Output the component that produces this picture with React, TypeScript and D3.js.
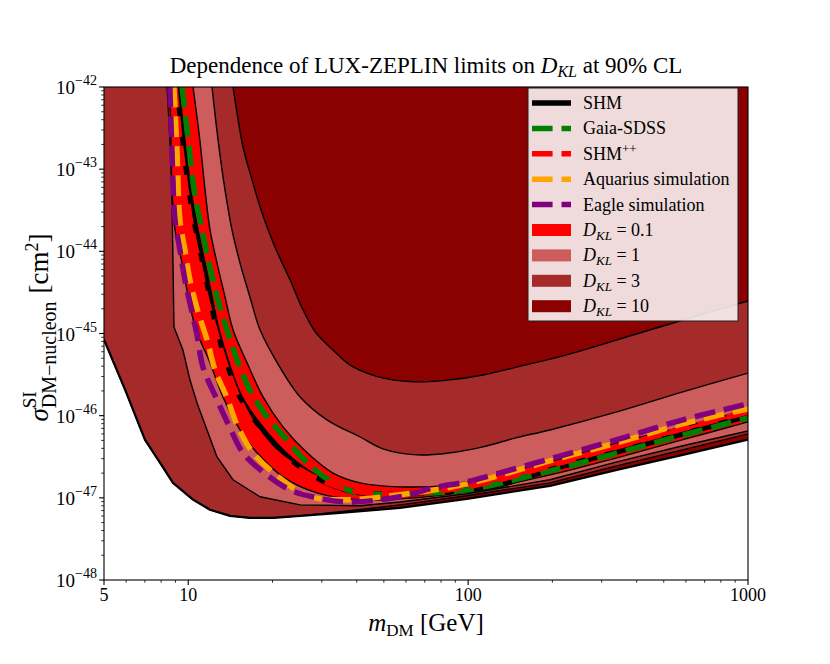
import { useRef, useEffect } from "react";
import * as d3 from "d3";

type Pt = [number, number];

// axis ranges
const massDomain: [number, number] = [5, 1000];
const sigmaDomain: [number, number] = [1e-48, 1e-42];
const xTickVals = [5, 10, 100, 1000];
const yTickExps = [-48, -47, -46, -45, -44, -43, -42];

// band edges, [m_DM (GeV), sigma (cm^2)]
const lowerD10: Pt[] = [
  [5, 8.4e-46], [5.95, 2.06e-46], [7.0, 5.1e-47], [7.93, 2.67e-47], [8.82, 1.52e-47],
  [10.4, 9.5e-48], [11.96, 7.15e-48], [14.1, 6.04e-48], [16.6, 5.7e-48], [20.1, 5.7e-48],
  [25.1, 6.04e-48], [34.9, 6.57e-48], [57.1, 7.56e-48], [99, 9.7e-48], [196, 1.4e-47],
  [340, 2.19e-47], [585, 3.33e-47], [1000, 5.1e-47],
];
const lowerD3: Pt[] = [
  [5, 8.4e-46], [5.95, 2.06e-46], [7.0, 5.1e-47], [7.93, 2.67e-47], [8.82, 1.52e-47],
  [10.4, 9.5e-48], [11.96, 7.15e-48], [14.1, 6.04e-48], [16.6, 5.7e-48], [20.1, 5.7e-48],
  [25.1, 6.04e-48], [34.9, 6.76e-48], [57.1, 8.2e-48], [99, 1.06e-47], [196, 1.52e-47],
  [340, 2.45e-47], [585, 3.84e-47], [1000, 6.0e-47],
];
const lowerD1: Pt[] = [
  [8.6, 1e-42], [8.75, 4.22e-44], [8.89, 1.2e-45], [9.57, 6.3e-46], [10.14, 2.73e-46],
  [10.75, 1.43e-46], [11.67, 6.7e-47], [12.67, 3.15e-47], [14.45, 1.66e-47], [18.05, 1.03e-47],
  [25.1, 8.2e-48], [41.1, 8.0e-48], [57.1, 8.9e-48], [99, 1.12e-47], [196, 1.66e-47],
  [340, 2.74e-47], [585, 4.3e-47], [1000, 6.5e-47],
];
const lowerD01: Pt[] = [
  [8.4, 1e-42], [8.6, 2.26e-43], [8.75, 5.6e-44], [8.97, 1.82e-44], [9.5, 7.2e-45],
  [10.0, 2.8e-45], [10.66, 1.11e-45], [11.96, 4.4e-46], [13.31, 1.69e-46], [15.31, 6.7e-47],
  [17.61, 3.53e-47], [21.8, 1.8e-47], [28.8, 1.15e-47], [41.1, 9.46e-48], [57.1, 9.7e-48],
  [99, 1.18e-47], [196, 1.9e-47], [340, 3.07e-47], [585, 5.1e-47], [1000, 8.4e-47],
];
const upperD01: Pt[] = [
  [10.4, 1e-42], [11.0, 2.26e-43], [11.48, 5.6e-44], [11.96, 1.82e-44], [12.67, 7.2e-45],
  [13.53, 2.8e-45], [14.45, 1.11e-45], [16.22, 4.4e-46], [18.5, 1.69e-46], [21.8, 7.3e-47],
  [26.6, 3.53e-47], [32.9, 2.0e-47], [41.1, 1.52e-47], [57.1, 1.36e-47], [86.1, 1.44e-47],
  [113, 1.75e-47], [149, 2.19e-47], [196, 2.74e-47], [340, 4.67e-47], [585, 7.3e-47],
  [1000, 1.18e-46],
];
const upperD1: Pt[] = [
  [12.16, 1e-42], [12.78, 2.26e-43], [13.53, 5.6e-44], [14.33, 1.82e-44], [15.31, 7.2e-45],
  [16.6, 2.8e-45], [18.05, 1.11e-45], [20.8, 4.4e-46], [25.1, 1.69e-46], [31.3, 8.9e-47],
  [41.1, 5.5e-47], [49.6, 3.95e-47], [65.7, 3.33e-47], [86.1, 3.53e-47], [113, 4.17e-47],
  [149, 5.4e-47], [196, 6.7e-47], [340, 1.11e-46], [585, 1.95e-46], [1000, 3.3e-46],
];
const upperD3: Pt[] = [
  [14.45, 1e-42], [14.94, 4.8e-43], [15.69, 1.86e-43], [16.9, 7.4e-44], [18.35, 2.93e-44],
  [20.4, 1.13e-44], [23.1, 4.5e-45], [25.7, 1.94e-45], [28.6, 1.02e-45], [32.9, 6.3e-46],
  [37.8, 4.15e-46], [43.5, 3.3e-46], [51.3, 2.8e-46], [65.7, 2.58e-46], [86.1, 2.73e-46],
  [113, 3.13e-46], [149, 3.9e-46], [225, 5.5e-46], [388, 9.6e-46], [673, 1.68e-45],
  [1000, 2.49e-45],
];

// limit curves for the halo models
const shm: Pt[] = [
  [9.12, 1e-42], [9.57, 2.26e-43], [10.06, 5.6e-44], [10.66, 1.82e-44], [11.29, 7.2e-45],
  [11.96, 2.8e-45], [12.67, 1.11e-45], [13.75, 4.4e-46], [15.31, 1.69e-46], [17.61, 8.2e-47],
  [20.8, 4.2e-47], [25.1, 2.38e-47], [31.3, 1.52e-47], [41.1, 1.15e-47], [57.1, 1.12e-47],
  [74.9, 1.15e-47], [99, 1.25e-47], [130, 1.44e-47], [196, 2.19e-47], [340, 3.63e-47],
  [585, 6.0e-47], [1000, 9.95e-47],
];
const gaiaSdss: Pt[] = [
  [9.5, 1e-42], [10.0, 2.26e-43], [10.49, 5.6e-44], [11.2, 1.82e-44], [11.86, 7.2e-45],
  [12.67, 2.8e-45], [13.75, 1.11e-45], [14.94, 4.77e-46], [16.6, 2.06e-46], [19.1, 9.7e-47],
  [22.5, 5.1e-47], [26.6, 2.67e-47], [32.9, 1.52e-47], [40.1, 1.15e-47], [57.1, 1.12e-47],
  [99, 1.25e-47], [196, 2.13e-47], [340, 3.5e-47], [585, 5.8e-47], [1000, 9.4e-47],
];
const shmPlusPlus: Pt[] = [
  [8.97, 1e-42], [9.34, 2.26e-43], [9.82, 5.6e-44], [10.31, 1.82e-44], [10.93, 7.2e-45],
  [11.57, 2.8e-45], [12.46, 1.11e-45], [13.53, 4.4e-46], [15.06, 1.69e-46], [17.32, 7.1e-47],
  [20.4, 3.63e-47], [25.1, 2.19e-47], [32.1, 1.48e-47], [41.1, 1.18e-47], [57.1, 1.12e-47],
  [99, 1.36e-47], [196, 2.45e-47], [340, 4.17e-47], [585, 6.9e-47], [1000, 1.11e-46],
];
const aquarius: Pt[] = [
  [8.89, 1e-42], [9.12, 1.57e-43], [9.34, 2.41e-44], [9.73, 1.04e-44], [10.14, 4.5e-45],
  [10.84, 1.83e-45], [11.67, 8.4e-46], [12.46, 3.6e-46], [13.75, 1.65e-46], [15.06, 7.3e-47],
  [17.04, 3.53e-47], [20.8, 1.85e-47], [26.6, 1.06e-47], [34.9, 9.46e-48], [57.1, 1.09e-47],
  [99, 1.48e-47], [196, 2.82e-47], [340, 4.67e-47], [585, 7.94e-47], [1000, 1.21e-46],
];
const eagle: Pt[] = [
  [8.6, 1e-42], [8.75, 1.57e-43], [8.97, 2.41e-44], [9.34, 1.04e-44], [9.73, 4.5e-45],
  [10.31, 1.83e-45], [10.75, 9.6e-46], [11.29, 3.9e-46], [12.67, 1.56e-46], [14.1, 7.1e-47],
  [15.69, 3.53e-47], [18.5, 2.07e-47], [23.1, 1.25e-47], [28.8, 1.0e-47], [36.9, 8.9e-48],
  [57.1, 1.03e-47], [74.9, 1.32e-47], [99, 1.57e-47], [130, 2.01e-47], [196, 2.98e-47],
  [340, 5.1e-47], [585, 8.9e-47], [1000, 1.39e-46],
];

const curveNames = ["SHM", "Gaia-SDSS", "SHM++", "Aquarius simulation", "Eagle simulation"];
const curveColors = ["black", "green", "red", "orange", "purple"];
const dklValues = ["0.1", "1", "3", "10"];
const dklColors = ["#ff0000", "#cd5c5c", "#a52a2a", "#8b0000"];

const W = 830,
  H = 664;
const M = { left: 104, right: 748, top: 87, bottom: 580 };
const FONT = "'Liberation Serif', 'DejaVu Serif', serif";

export default function App() {
  const ref = useRef<SVGSVGElement>(null);

  useEffect(() => {
    if (!ref.current) return;
    const svg = d3.select(ref.current);
    svg.selectAll("*").remove();

    const x = d3.scaleLog().domain(massDomain).range([M.left, M.right]);
    const y = d3.scaleLog().domain(sigmaDomain).range([M.bottom, M.top]);
    const P = (d: Pt): [number, number] => [x(d[0]), y(d[1])];
    const lin = d3.line().curve(d3.curveLinear);
    const smooth = d3.line().curve(d3.curveCatmullRom.alpha(0.5));
    const yTop = y(1e-42);

    const band = (lo: Pt[], loGen: any, up: Pt[], upGen: any) => {
      const a = loGen(lo.map(P)).replace(/^M/, "L");
      const b = upGen([...up].reverse().map(P)).replace(/^M/, "L");
      return `M${x(lo[0][0])},${yTop}${a}${b}L${x(up[0][0])},${yTop}Z`;
    };

    svg
      .append("defs")
      .append("clipPath")
      .attr("id", "plotclip")
      .append("rect")
      .attr("x", M.left)
      .attr("y", M.top)
      .attr("width", M.right - M.left)
      .attr("height", M.bottom - M.top);

    const g = svg.append("g").attr("clip-path", "url(#plotclip)");

    // bands, widest first
    g.append("path")
      .attr("d", `M${x(5)},${yTop}${lin(lowerD10.map(P)).replace(/^M/, "L")}L${x(1000)},${yTop}Z`)
      .attr("fill", dklColors[3]);
    g.append("path").attr("d", band(lowerD3, lin, upperD3, smooth)).attr("fill", dklColors[2]);
    g.append("path").attr("d", band(lowerD1, lin, upperD1, smooth)).attr("fill", dklColors[1]);
    g.append("path").attr("d", band(lowerD01, smooth, upperD01, smooth)).attr("fill", dklColors[0]);

    // band edges
    const edges: [Pt[], any, number][] = [
      [lowerD10, lin, 2.2],
      [lowerD3, lin, 1.4],
      [lowerD1, lin, 1.4],
      [lowerD01, smooth, 1.4],
      [upperD01, smooth, 1.4],
      [upperD1, smooth, 1.4],
      [upperD3, smooth, 1.4],
    ];
    edges.forEach(([pts, gen, w]) => {
      g.append("path")
        .attr("d", gen(pts.map(P)))
        .attr("fill", "none")
        .attr("stroke", "black")
        .attr("stroke-width", w)
        .attr("stroke-linejoin", "round");
    });

    // halo model limits
    const curves = [shm, gaiaSdss, shmPlusPlus, aquarius, eagle];
    curves.forEach((c, i) => {
      g.append("path")
        .attr("d", smooth(c.map(P)))
        .attr("fill", "none")
        .attr("stroke", curveColors[i])
        .attr("stroke-width", 5.5)
        .attr("stroke-dasharray", i === 0 ? null : "20.6,8.9");
    });

    // frame
    svg
      .append("rect")
      .attr("x", M.left)
      .attr("y", M.top)
      .attr("width", M.right - M.left)
      .attr("height", M.bottom - M.top)
      .attr("fill", "none")
      .attr("stroke", "black")
      .attr("stroke-width", 1.1);

    // x ticks
    const xMinor: number[] = [];
    [1, 10, 100].forEach((dec) => {
      for (let k = 2; k <= 9; k++) {
        const v = k * dec;
        if (v > 5 && v < 1000 && !xTickVals.includes(v)) xMinor.push(v);
      }
    });
    const ax = svg.append("g");
    xMinor.forEach((v) => {
      ax.append("line")
        .attr("x1", x(v)).attr("x2", x(v))
        .attr("y1", M.bottom).attr("y2", M.bottom + 2.8)
        .attr("stroke", "black").attr("stroke-width", 0.8);
    });
    xTickVals.forEach((v) => {
      ax.append("line")
        .attr("x1", x(v)).attr("x2", x(v))
        .attr("y1", M.bottom).attr("y2", M.bottom + 4.9)
        .attr("stroke", "black").attr("stroke-width", 1.1);
      ax.append("text")
        .attr("x", x(v))
        .attr("y", M.bottom + 21)
        .attr("text-anchor", "middle")
        .attr("font-family", FONT)
        .attr("font-size", 18)
        .text(String(v));
    });

    // y ticks
    yTickExps.forEach((e) => {
      const v = Math.pow(10, e);
      ax.append("line")
        .attr("x1", M.left - 4.9).attr("x2", M.left)
        .attr("y1", y(v)).attr("y2", y(v))
        .attr("stroke", "black").attr("stroke-width", 1.1);
      const t = ax.append("text")
        .attr("x", M.left - 7)
        .attr("y", y(v) + 7)
        .attr("text-anchor", "end")
        .attr("font-family", FONT)
        .attr("font-size", 19);
      t.append("tspan").text("10");
      t.append("tspan").attr("font-size", 14).attr("dy", -9).text(`\u2212${-e}`);
      if (e < -42) {
        for (let k = 2; k <= 9; k++) {
          const mv = k * v;
          ax.append("line")
            .attr("x1", M.left - 2.8).attr("x2", M.left)
            .attr("y1", y(mv)).attr("y2", y(mv))
            .attr("stroke", "black").attr("stroke-width", 0.8);
        }
      }
    });

    // title
    const title = svg.append("text")
      .attr("x", (M.left + M.right) / 2)
      .attr("y", 73)
      .attr("text-anchor", "middle")
      .attr("font-family", FONT)
      .attr("font-size", 23);
    title.append("tspan").text("Dependence of LUX-ZEPLIN limits on ");
    title.append("tspan").attr("font-style", "italic").text("D");
    title.append("tspan").attr("font-style", "italic").attr("font-size", 16).attr("dy", 4).text("KL");
    title.append("tspan").attr("dy", -4).text(" at 90% CL");

    // x label
    const xl = svg.append("text")
      .attr("x", (M.left + M.right) / 2)
      .attr("y", 631)
      .attr("text-anchor", "middle")
      .attr("font-family", FONT)
      .attr("font-size", 25);
    xl.append("tspan").attr("font-style", "italic").text("m");
    xl.append("tspan").attr("font-size", 17).attr("dy", 5).text("DM");
    xl.append("tspan").attr("dy", -5).text(" [GeV]");

    // y label
    const yg = svg.append("g");
    const yt = yg.append("text").attr("font-family", FONT).attr("font-size", 27);
    yt.append("tspan").attr("font-style", "italic").text("\u03c3");
    const sup = yt.append("tspan").attr("font-size", 19).attr("dy", -12).text("SI");
    const supW = (sup.node() as SVGTextContentElement).getComputedTextLength();
    yt.append("tspan").attr("font-size", 20).attr("dx", -supW).attr("dy", 20).text("DM\u2212nucleon");
    yt.append("tspan").attr("dx", 8).attr("dy", -8).text("[cm");
    yt.append("tspan").attr("font-size", 18).attr("dy", -10).text("2");
    yt.append("tspan").attr("dy", 10).text("]");
    const bb = (yt.node() as SVGGraphicsElement).getBBox();
    yt.attr("x", -bb.width / 2);
    yg.attr("transform", `translate(48,${(M.top + M.bottom) / 2 - 6}) rotate(-90)`);

    // legend
    const lg = svg.append("g");
    lg.append("rect")
      .attr("x", 528)
      .attr("y", 88)
      .attr("width", 210)
      .attr("height", 233)
      .attr("fill", "white")
      .attr("fill-opacity", 0.86)
      .attr("stroke", "#222")
      .attr("stroke-width", 1);
    const rowY = (i: number) => 103 + i * 25.4;
    curveNames.forEach((name, i) => {
      lg.append("line")
        .attr("x1", 532).attr("x2", 571)
        .attr("y1", rowY(i)).attr("y2", rowY(i))
        .attr("stroke", curveColors[i])
        .attr("stroke-width", 5.5)
        .attr("stroke-dasharray", i === 0 ? null : "20.6,8.9");
      const t = lg.append("text")
        .attr("x", 583).attr("y", rowY(i) + 6)
        .attr("font-family", FONT).attr("font-size", 18);
      if (name === "SHM++") {
        t.append("tspan").text("SHM");
        t.append("tspan").attr("font-size", 13).attr("dy", -7).text("++");
      } else {
        t.text(name);
      }
    });
    dklValues.forEach((v, j) => {
      const i = j + curveNames.length;
      lg.append("rect")
        .attr("x", 532).attr("y", rowY(i) - 6)
        .attr("width", 39).attr("height", 12)
        .attr("fill", dklColors[j]);
      const t = lg.append("text")
        .attr("x", 583).attr("y", rowY(i) + 6)
        .attr("font-family", FONT).attr("font-size", 18);
      t.append("tspan").attr("font-style", "italic").text("D");
      t.append("tspan").attr("font-style", "italic").attr("font-size", 13).attr("dy", 4).text("KL");
      t.append("tspan").attr("dy", -4).text(` = ${v}`);
    });
  }, []);

  return (
    <svg
      ref={ref}
      width={W}
      height={H}
      style={{ position: "absolute", left: 0, top: 0, display: "block", background: "white" }}
    />
  );
}
